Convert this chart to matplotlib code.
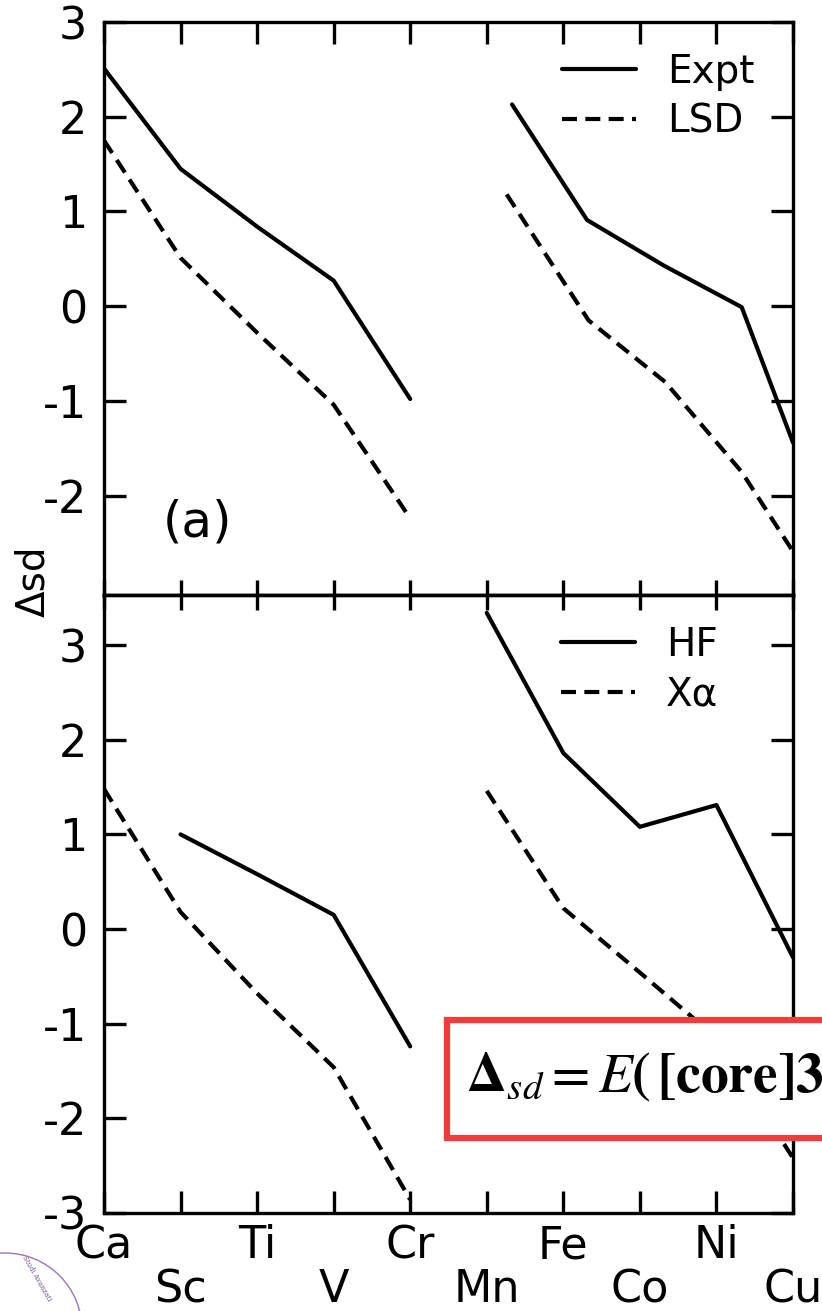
import matplotlib
matplotlib.use("Agg")
import matplotlib.pyplot as plt
from matplotlib.patches import Rectangle, Circle

plt.rcParams['font.family'] = ['DejaVu Sans']
plt.rcParams['axes.unicode_minus'] = False
plt.rcParams['mathtext.fontset'] = 'stix'

# element labels along x (positions 0..9)
elements = ['Ca', 'Sc', 'Ti', 'V', 'Cr', 'Mn', 'Fe', 'Co', 'Ni', 'Cu']

# (a) Expt / LSD
expt_x1 = [0, 1, 2, 3, 4]
expt_y1 = [2.51, 1.45, 0.84, 0.27, -0.98]
expt_x2 = [5.33, 6.31, 7.31, 8.33, 9.0]
expt_y2 = [2.13, 0.91, 0.43, -0.01, -1.44]
lsd_x1 = [0, 1, 2, 3, 4]
lsd_y1 = [1.75, 0.51, -0.28, -1.04, -2.24]
lsd_x2 = [5.26, 6.33, 7.33, 8.33, 9.0]
lsd_y2 = [1.18, -0.15, -0.80, -1.75, -2.59]

# (b) HF / X-alpha
hf_x1 = [1, 2, 3, 4]
hf_y1 = [1.00, 0.58, 0.15, -1.24]
hf_x2 = [5, 6, 7, 8, 9]
hf_y2 = [3.34, 1.86, 1.08, 1.31, -0.30]
xa_x1 = [0, 1, 2, 3, 4]
xa_y1 = [1.48, 0.18, -0.68, -1.46, -2.86]
xa_x2 = [5, 6, 7, 8, 9]
xa_y2 = [1.46, 0.22, -0.46, -1.15, -2.42]

top_yticks = [-2, -1, 0, 1, 2, 3]
bot_yticks = [-3, -2, -1, 0, 1, 2, 3]

LW = 3.0
DASH = (3.6, 2.0)
TICKLEN = 16
SPW = 2.4

fig = plt.figure(figsize=(8.22, 13.11), dpi=100)
ax1 = fig.add_axes([0.1265, 0.5461, 0.8382, 0.4371])
ax2 = fig.add_axes([0.1265, 0.0748, 0.8382, 0.4714])

for ax in (ax1, ax2):
    ax.set_xlim(0, 9)
    for s in ax.spines.values():
        s.set_linewidth(SPW)
    ax.tick_params(axis='y', which='major', left=True, right=True, direction='in',
                   length=TICKLEN, width=SPW, labelsize=32, pad=12)

# top panel
ax1.plot(expt_x1, expt_y1, 'k-', lw=LW, solid_capstyle='round', label='Expt')
ax1.plot(expt_x2, expt_y2, 'k-', lw=LW, solid_capstyle='round')
ax1.plot(lsd_x1, lsd_y1, 'k--', lw=LW, dashes=DASH, label='LSD')
ax1.plot(lsd_x2, lsd_y2, 'k--', lw=LW, dashes=DASH)
ax1.set_ylim(-3.05, 3.0)
ax1.set_yticks(top_yticks)
ax1.set_xticks(range(len(elements)))
ax1.tick_params(axis='x', bottom=False, top=True, labelbottom=False, direction='in',
                length=TICKLEN, width=SPW)
ax1.legend(loc='upper right', bbox_to_anchor=(0.972, 0.98), frameon=False, fontsize=28,
           handlelength=1.9, handletextpad=0.8, labelspacing=0.3, borderpad=0)
ax1.text(0.085, 0.127, '(a)', transform=ax1.transAxes, fontsize=36, va='center', ha='left')

# bottom panel
ax2.plot(hf_x1, hf_y1, 'k-', lw=LW, solid_capstyle='round', label='HF')
ax2.plot(hf_x2, hf_y2, 'k-', lw=LW, solid_capstyle='round')
ax2.plot(xa_x1, xa_y1, 'k--', lw=LW, dashes=DASH, label='X\u03b1')
ax2.plot(xa_x2, xa_y2, 'k--', lw=LW, dashes=DASH)
ax2.set_ylim(-3.0, 3.53)
ax2.set_yticks(bot_yticks)
ax2.set_xticks(range(len(elements)))
ax2.set_xticklabels(elements)
ax2.tick_params(axis='x', bottom=True, top=False, direction='in', length=TICKLEN,
                width=SPW, labelsize=32)
for i, t in enumerate(ax2.xaxis.get_major_ticks()):
    t.set_pad(8 if i % 2 == 0 else 40)
sec = ax2.secondary_xaxis('top')
sec.set_xticks(range(len(elements)))
sec.tick_params(axis='x', direction='inout', length=22, width=SPW, labeltop=False)
sec.spines['top'].set_linewidth(SPW)
ax2.legend(loc='upper right', bbox_to_anchor=(0.92, 0.982), frameon=False, fontsize=28,
           handlelength=1.9, handletextpad=0.8, labelspacing=0.3, borderpad=0)

fig.text(0.04, 0.557, '\u0394sd', rotation=90, fontsize=28, ha='center', va='center')

# red annotation box with the definition (runs off the right edge)
box = Rectangle((447 / 822, 1 - 1138 / 1311), 400 / 822, 118 / 1311, transform=fig.transFigure,
                facecolor='white', edgecolor='#f23b3b', linewidth=4.5, zorder=20)
fig.add_artist(box)
fig.text(466 / 822, 1 - 1093 / 1311,
         r'$\mathbf{\Delta}_{sd}=\mathit{E}\mathbf{(\,[core]3}d^{n-1}4s^{2})$',
         fontsize=40, ha='left', va='baseline', zorder=21)

# partial stamp in the lower-left corner
stamp = Circle((0.05, -0.19), 0.77, transform=fig.dpi_scale_trans, fill=False,
               edgecolor='#a070c0', linewidth=1.0, zorder=5)
fig.add_artist(stamp)
fig.text(0.045, 0.025, 'Studi Avanzati', rotation=-60, fontsize=5, color='#7a4a9a',
         family='DejaVu Serif', ha='center', va='center')

fig.savefig('out.png', dpi=100)
